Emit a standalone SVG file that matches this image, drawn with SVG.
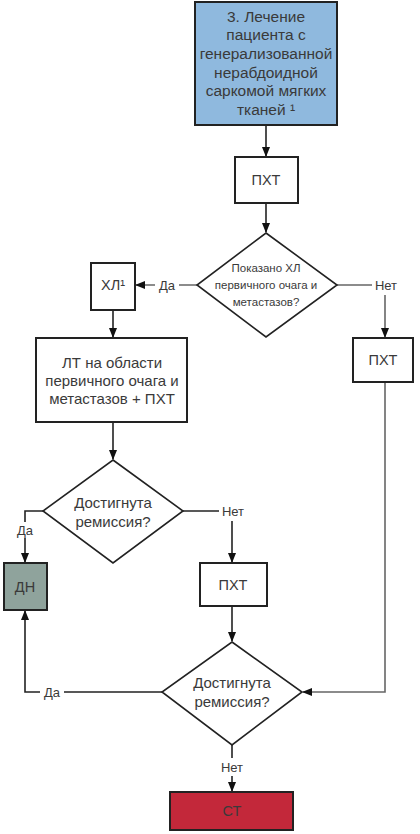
<svg xmlns="http://www.w3.org/2000/svg" width="420" height="834" viewBox="0 0 420 834">
<defs>
<marker id="ah" markerWidth="10" markerHeight="10" refX="9" refY="5" orient="auto" markerUnits="userSpaceOnUse">
<path d="M0,1 L10,5 L0,9 Z" fill="#111"/>
</marker>
<style>
.box{fill:#fff;stroke:#222;stroke-width:2}
.dia{fill:#fff;stroke:#222;stroke-width:1.6}
.t{font-family:"Liberation Sans",Arial,sans-serif;fill:#3a3a3a;text-anchor:middle;dominant-baseline:central}
.c{fill:none;stroke:#222;stroke-width:1.6}
.g{fill:none;stroke:#666;stroke-width:1.6}
.lbl{font-family:"Liberation Sans",Arial,sans-serif;fill:#3a3a3a;font-size:13px;text-anchor:middle;dominant-baseline:central}
.bg{fill:#fff}
</style>
</defs>
<rect width="420" height="834" fill="#fff"/>
<g id="connectors">
<line class="c" x1="266" y1="125" x2="266" y2="156" marker-end="url(#ah)"/>
<line class="c" x1="266" y1="203" x2="266" y2="232" marker-end="url(#ah)"/>
<line class="g" x1="197" y1="285" x2="136" y2="285" marker-end="url(#ah)"/>
<line class="g" x1="337" y1="285" x2="372" y2="285"/>
<line class="g" x1="385" y1="295" x2="385" y2="337" marker-end="url(#ah)"/>
<line class="c" x1="113" y1="310" x2="113" y2="337" marker-end="url(#ah)"/>
<line class="c" x1="113" y1="422" x2="113" y2="459" marker-end="url(#ah)"/>
<polyline class="c" points="43,511 25,511 25,522"/>
<line class="c" x1="25" y1="538" x2="25" y2="562" marker-end="url(#ah)"/>
<line class="c" x1="183" y1="511" x2="219" y2="511"/>
<line class="c" x1="232" y1="521" x2="232" y2="562" marker-end="url(#ah)"/>
<line class="c" x1="232" y1="606" x2="232" y2="641" marker-end="url(#ah)"/>
<polyline class="g" points="385,382 385,692 303,692" marker-end="url(#ah)"/>
<polyline class="c" points="162,692 25,692 25,611" marker-end="url(#ah)"/>
<line class="c" x1="232" y1="745" x2="232" y2="758"/>
<line class="c" x1="232" y1="776" x2="232" y2="791" marker-end="url(#ah)"/>
<rect class="bg" x="155" y="277" width="24" height="16"/>
<text class="lbl" x="167" y="285">Да</text>
<text class="lbl" x="386" y="285">Нет</text>
<text class="lbl" x="25" y="530">Да</text>
<text class="lbl" x="233" y="511">Нет</text>
<rect class="bg" x="40" y="684" width="24" height="16"/>
<text class="lbl" x="52" y="692">Да</text>
<text class="lbl" x="232" y="767">Нет</text>
</g>
<g id="n1">
<rect x="195" y="2" width="142" height="123" fill="#8fb9de" stroke="#222" stroke-width="2"/>
<text class="t" font-size="15.5" x="266" y="16">3. Лечение</text>
<text class="t" font-size="15.5" x="266" y="34">пациента с</text>
<text class="t" font-size="15.5" x="266" y="53">генерализованной</text>
<text class="t" font-size="15.5" x="266" y="72">нерабдоидной</text>
<text class="t" font-size="15.5" x="266" y="90">саркомой мягких</text>
<text class="t" font-size="15.5" x="266" y="109">тканей ¹</text>
</g>
<g id="n2">
<rect class="box" x="235" y="157" width="63" height="46"/>
<text class="t" font-size="14.5" x="266" y="180">ПХТ</text>
</g>
<g id="n3">
<polygon class="dia" points="266,233 337,285 266,337 197,285"/>
<text class="t" font-size="11.5" x="266" y="268">Показано ХЛ</text>
<text class="t" font-size="11.5" x="266" y="285">первичного очага и</text>
<text class="t" font-size="11.5" x="266" y="302">метастазов?</text>
</g>
<g id="n4">
<rect class="box" x="91" y="263" width="44" height="47"/>
<text class="t" font-size="14.5" x="113" y="285">ХЛ¹</text>
</g>
<g id="n5">
<rect class="box" x="353" y="338" width="60" height="44"/>
<text class="t" font-size="14.5" x="383" y="360">ПХТ</text>
</g>
<g id="n6">
<rect class="box" x="36" y="338" width="151" height="84"/>
<text class="t" font-size="15" x="112" y="362">ЛТ на области</text>
<text class="t" font-size="15" x="112" y="380">первичного очага и</text>
<text class="t" font-size="15" x="112" y="398">метастазов + ПХТ</text>
</g>
<g id="n7">
<polygon class="dia" points="113,460 183,511 113,563 43,511"/>
<text class="t" font-size="15" x="113" y="502">Достигнута</text>
<text class="t" font-size="15" x="113" y="521">ремиссия?</text>
</g>
<g id="n8">
<rect x="4" y="563" width="43" height="47" fill="#8fa39c" stroke="#222" stroke-width="2"/>
<text class="t" font-size="14.5" x="25" y="587">ДН</text>
</g>
<g id="n9">
<rect class="box" x="200" y="563" width="67" height="43"/>
<text class="t" font-size="14.5" x="233" y="585">ПХТ</text>
</g>
<g id="n10">
<polygon class="dia" points="232,642 302,692 232,745 162,692"/>
<text class="t" font-size="15" x="232" y="682">Достигнута</text>
<text class="t" font-size="15" x="232" y="701">ремиссия?</text>
</g>
<g id="n11">
<rect x="170" y="792" width="123" height="38" fill="#c3283a" stroke="#222" stroke-width="2"/>
<text class="t" font-size="14.5" x="232" y="811">СТ</text>
</g>
</svg>
